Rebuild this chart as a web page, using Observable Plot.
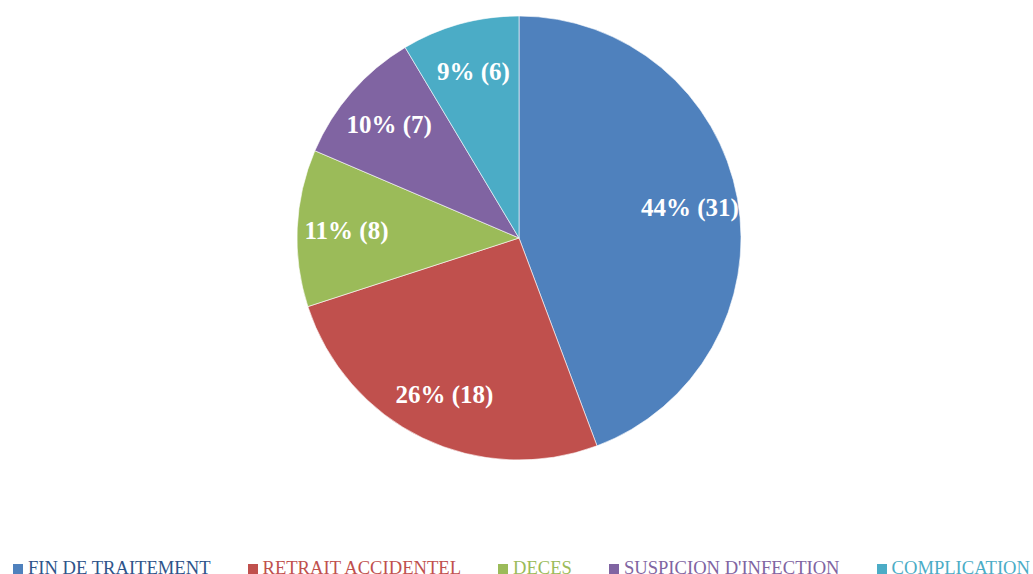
<!DOCTYPE html>
<html>
<head>
<meta charset="utf-8">
<script src="https://cdn.jsdelivr.net/npm/d3@7"></script>
<script src="https://cdn.jsdelivr.net/npm/@observablehq/plot@0.6"></script>
<style>
  html, body { margin: 0; padding: 0; background: #fff; overflow: hidden; }
  #legend { display: flex; justify-content: center; gap: 37px; height: 18px; line-height: 18px; padding-left: 10px;
    font-family: "Liberation Serif", "Times New Roman", serif; font-size: 18.6px; white-space: nowrap; }
  #legend .item { display: flex; align-items: center; }
  #legend .sw { width: 10px; height: 10px; margin-right: 5px; display: inline-block; position: relative; top: 1px; }
</style>
</head>
<body>
<div id="chart"></div>
<div id="legend"></div>
<script>
const categories = ["FIN DE TRAITEMENT", "RETRAIT ACCIDENTEL", "DECES", "SUSPICION D'INFECTION", "COMPLICATION"];
const counts = [31, 18, 8, 7, 6];
const percentLabels = ["44%", "26%", "11%", "10%", "9%"];
const colors = ["#4F81BD", "#C0504D", "#9BBB59", "#8064A2", "#4BACC6"];
const legendTextColors = ["#2E548A", "#C0504D", "#9BBB59", "#8064A2", "#4BACC6"];

const data = categories.map((c, i) => ({category: c, value: counts[i], label: `${percentLabels[i]} (${counts[i]})`, color: colors[i]}));
const arcs = d3.pie().sort(null).value(d => d.value)(data);
const labelR = 0.78;
const labelData = arcs.map(a => {
  const m = (a.startAngle + a.endAngle) / 2;
  return {label: a.data.label, x: labelR * Math.sin(m), y: labelR * Math.cos(m)};
});

const W = 1033, H = 559;
const cx = 519, cy = 238, R = 222;

const pieMark = (index, scales) => {
  const x0 = scales.x(0), y0 = scales.y(0);
  const r = scales.x(1) - scales.x(0);
  const arc = d3.arc().innerRadius(0).outerRadius(r);
  const g = d3.create("svg:g").attr("transform", `translate(${x0},${y0})`);
  g.selectAll("path").data(arcs).join("path")
    .attr("d", arc)
    .attr("fill", d => d.data.color)
    .attr("stroke", "#ffffff")
    .attr("stroke-width", 0.6);
  return g.node();
};

const chart = Plot.plot({
  width: W,
  height: H,
  marginLeft: cx - R,
  marginRight: W - (cx + R),
  marginTop: cy - R,
  marginBottom: H - (cy + R),
  x: {domain: [-1, 1], axis: null},
  y: {domain: [-1, 1], axis: null},
  style: {background: "#fff"},
  marks: [
    pieMark,
    Plot.text(labelData, {
      x: "x", y: "y", text: "label",
      fill: "#ffffff", fontWeight: "bold", fontSize: 25,
      fontFamily: "Liberation Serif, Times New Roman, serif"
    })
  ]
});
document.getElementById("chart").appendChild(chart);

const legend = d3.select("#legend");
categories.forEach((c, i) => {
  const it = legend.append("div").attr("class", "item");
  it.append("span").attr("class", "sw").style("background", colors[i]);
  it.append("span").style("color", legendTextColors[i]).text(c);
});
</script>
</body>
</html>
